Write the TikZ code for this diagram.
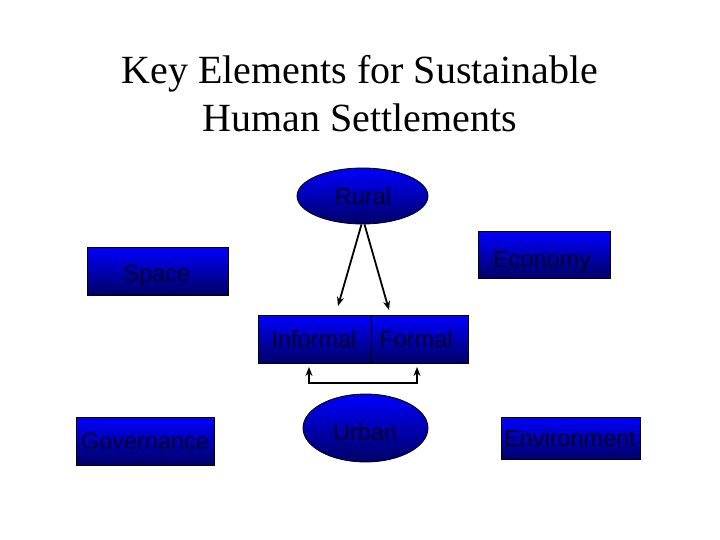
\documentclass[tikz,border=0pt]{standalone}
\usepackage{fontspec}
\setmainfont{Liberation Serif}
\newfontfamily\labelfont{Liberation Sans}
\usetikzlibrary{shapes.geometric,arrows.meta}
\definecolor{boxtop}{RGB}{0,0,255}
\definecolor{boxbot}{RGB}{0,0,100}
\definecolor{labelcol}{RGB}{0,0,45}
\tikzset{
  shadedbox/.style={draw=black, line width=0.8pt, top color=boxtop, bottom color=boxbot, inner sep=0pt},
  blockbox/.style={shadedbox, rectangle},
  ovalbox/.style={shadedbox, ellipse},
  lbl/.style={anchor=base, inner sep=0pt, text=labelcol, font=\labelfont\fontsize{23.5}{26}\selectfont},
  ttl/.style={anchor=base, inner sep=0pt, font=\fontsize{40}{46}\selectfont},
  conn/.style={line width=1.8pt, -{Stealth[length=9pt,width=7pt]}},
  bconn/.style={line width=1.8pt, {Stealth[length=9pt,width=7pt]}-{Stealth[length=9pt,width=7pt]}}
}
\begin{document}
\begin{tikzpicture}[x=1pt,y=-1pt]
\useasboundingbox (0,0) rectangle (720,540);
% title
\node[ttl] (t1) at (360,84) {Key Elements for Sustainable};
\node[ttl] (t2) at (360,132) {Human Settlements};
% shapes
\node[ovalbox, minimum width=131pt, minimum height=56pt] (rural) at (362.5,196) {};
\node[blockbox, minimum width=141pt, minimum height=48pt] (space) at (157.5,271) {};
\node[blockbox, minimum width=132pt, minimum height=47pt] (economy) at (544,254.5) {};
\node[blockbox, minimum width=113pt, minimum height=48pt] (informal) at (314.5,339) {};
\node[blockbox, minimum width=97pt, minimum height=48pt] (formal) at (419.5,339) {};
\node[blockbox, minimum width=138pt, minimum height=48pt] (governance) at (145,441) {};
\node[ovalbox, minimum width=125pt, minimum height=68pt] (urban) at (365.5,428) {};
\node[blockbox, minimum width=139pt, minimum height=42pt] (environment) at (570.5,438) {};
% labels
\node[lbl] (lrural) at (363,205) {Rural};
\node[lbl] (lspace) at (157,281) {Space};
\node[lbl] (leconomy) at (542,267) {Economy};
\node[lbl] (linformal) at (314,347) {Informal};
\node[lbl] (lformal) at (416,347) {Formal};
\node[lbl] (lgovernance) at (145,449) {Governance};
\node[lbl] (lurban) at (365,440) {Urban};
\node[lbl] (lenvironment) at (570,446) {Environment};
% connectors
\coordinate (la) at (338,306);
\coordinate (ra) at (389,310);
\draw[conn] ([xshift=-1pt]rural.south) -- (la);
\draw[conn] ([xshift=2pt]rural.south) -- (ra);
\coordinate (bl) at (309,367);
\coordinate (br) at (417,367);
\draw[bconn] (bl) -- (309,383) -- (417,383) -- (br);
\end{tikzpicture}
\end{document}
